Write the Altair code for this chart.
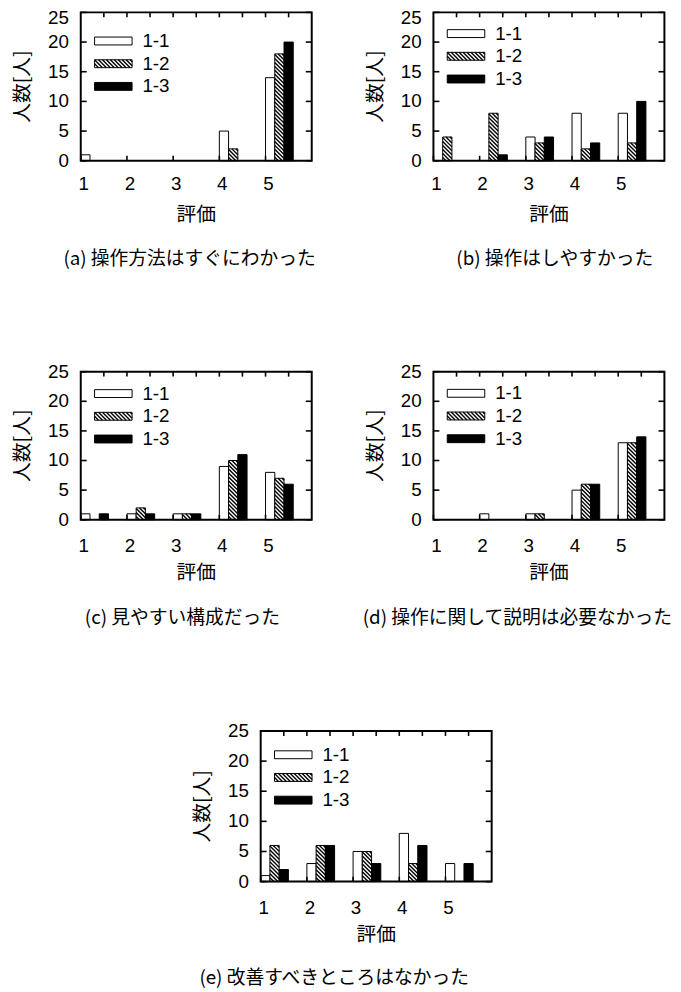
import altair as alt
import pandas as pd

# ---------------- data ----------------
ratings = [1, 2, 3, 4, 5]
series_names = ["1-1", "1-2", "1-3"]

a_11 = [1, 0, 0, 5, 14]
a_12 = [0, 0, 0, 2, 18]
a_13 = [0, 0, 0, 0, 20]

b_11 = [0, 0, 4, 8, 8]
b_12 = [4, 8, 3, 2, 3]
b_13 = [0, 1, 4, 3, 10]

c_11 = [1, 1, 1, 9, 8]
c_12 = [0, 2, 1, 10, 7]
c_13 = [1, 1, 1, 11, 6]

d_11 = [0, 1, 1, 5, 13]
d_12 = [0, 0, 1, 6, 13]
d_13 = [0, 0, 0, 6, 14]

e_11 = [1, 3, 5, 8, 3]
e_12 = [6, 6, 5, 3, 0]
e_13 = [2, 6, 3, 6, 3]

captions = [
    "(a) 操作方法はすぐにわかった",
    "(b) 操作はしやすかった",
    "(c) 見やすい構成だった",
    "(d) 操作に関して説明は必要なかった",
    "(e) 改善すべきところはなかった",
]
x_title = "評価"
y_title = "人数[人]"
y_tick_values = [0, 5, 10, 15, 20, 25]
x_tick_values = [1, 2, 3, 4, 5]
x_top_ticks = [1.5, 2, 2.5, 3, 3.5, 4, 4.5, 5, 5.5]

# ---------------- style ----------------
W = 234
BAR_W = 0.2
HATCH_P = 4.0
LAT = "Liberation Sans"
CJK = "Noto Sans CJK JP"
TICK_FS = 19
NOAX = dict(axis=None)


def panel(v11, v12, v13, caption, H, lab_pad, title_y, leg_top, cap_cx, cap_dy,
          bottom_ext, top_label_shift=0):
    ux = W / 5.0
    uy = H / 25.0
    xs = alt.Scale(domain=[1, 6], nice=False, zero=False)
    ys = alt.Scale(domain=[0, 25], nice=False)
    fill_scale = alt.Scale(domain=series_names, range=["white", "white", "black"])

    # invisible white block that fixes the panel's layout bounds (drawn first)
    spacer = alt.Chart(pd.DataFrame({"s": [0]})).mark_rect(fill="white", strokeWidth=0).encode(
        x=alt.value(-85), x2=alt.value(W + 10),
        y=alt.value(-15), y2=alt.value(H + bottom_ext))

    df = pd.DataFrame({
        "rating": ratings * 3,
        "series": [s for s in series_names for _ in ratings],
        "idx": [i for i in range(3) for _ in ratings],
        "value": v11 + v12 + v13,
    })

    base = alt.Chart(df).transform_filter("datum.value > 0").transform_calculate(
        x0=f"datum.rating + datum.idx * {BAR_W}",
        x1=f"datum.rating + (datum.idx + 1) * {BAR_W}",
    )

    bars = base.mark_rect(stroke="black", strokeWidth=1).encode(
        x=alt.X("x0:Q", scale=xs, **NOAX),
        x2="x1:Q",
        y=alt.Y("value:Q", scale=ys, **NOAX),
        y2=alt.datum(0),
        fill=alt.Fill("series:N", scale=fill_scale, legend=None),
    )

    def hatch(ch):
        return ch.transform_calculate(
            cs=f"sequence(datum.T - datum.R + {HATCH_P / 2}, datum.B - datum.L, {HATCH_P})"
        ).transform_flatten(["cs"], as_=["c"]).transform_calculate(
            p0="max(datum.L, datum.T - datum.c)",
            p1="min(datum.R, datum.B - datum.c)",
        ).transform_filter("datum.p1 > datum.p0").transform_calculate(
            hx0=f"1 + datum.p0 / {ux}",
            hx1=f"1 + datum.p1 / {ux}",
            hy0=f"({H} - datum.p0 - datum.c) / {uy}",
            hy1=f"({H} - datum.p1 - datum.c) / {uy}",
        ).mark_rule(stroke="black", strokeWidth=1.4).encode(
            x=alt.X("hx0:Q", scale=xs, **NOAX), x2="hx1:Q",
            y=alt.Y("hy0:Q", scale=ys, **NOAX), y2="hy1:Q",
        )

    bar_hatch = hatch(base.transform_filter("datum.series == '1-2'").transform_calculate(
        L=f"(datum.x0 - 1) * {ux}", R=f"(datum.x1 - 1) * {ux}",
        T=f"{H} - datum.value * {uy}", B=f"{H}",
    ))

    # frame and inward ticks (gnuplot style)
    frame = alt.Chart(pd.DataFrame({"s": [0]})).mark_rect(
        filled=False, stroke="black", strokeWidth=2).encode(
        x=alt.value(0), x2=alt.value(W), y=alt.value(0), y2=alt.value(H))
    tk = dict(stroke="black", strokeWidth=1.6)
    ydf = pd.DataFrame({"v": y_tick_values})
    xdf = pd.DataFrame({"v": x_tick_values})
    left_ticks = alt.Chart(ydf).mark_rule(**tk).encode(
        y=alt.Y("v:Q", scale=ys, **NOAX), x=alt.value(0), x2=alt.value(6))
    right_ticks = alt.Chart(ydf).mark_rule(**tk).encode(
        y=alt.Y("v:Q", scale=ys, **NOAX), x=alt.value(W - 6), x2=alt.value(W))
    top_ticks = alt.Chart(pd.DataFrame({"v": x_top_ticks})).mark_rule(**tk).encode(
        x=alt.X("v:Q", scale=xs, **NOAX), y=alt.value(0), y2=alt.value(5))
    bottom_ticks = alt.Chart(xdf).mark_rule(**tk).encode(
        x=alt.X("v:Q", scale=xs, **NOAX), y=alt.value(H - 5), y2=alt.value(H))

    # tick labels and axis titles
    y_labels = alt.Chart(ydf).transform_calculate(
        ypos=f"datum.v >= 25 ? 25 - {top_label_shift} / {uy} : datum.v"
    ).mark_text(font=LAT, fontSize=TICK_FS, align="right",
                baseline="middle", color="black").encode(
        y=alt.Y("ypos:Q", scale=ys, **NOAX), x=alt.value(-12),
        text=alt.Text("v:Q", format="d"))
    x_labels = alt.Chart(xdf).mark_text(font=LAT, fontSize=TICK_FS, align="center",
                                        baseline="middle", color="black", dx=3).encode(
        x=alt.X("v:Q", scale=xs, **NOAX), y=alt.value(H + lab_pad),
        text=alt.Text("v:Q", format="d"))
    x_ttl = alt.Chart(pd.DataFrame({"t": [x_title]})).mark_text(
        font=CJK, fontSize=20, align="center", baseline="middle", color="black").encode(
        text="t:N", x=alt.value(W / 2), y=alt.value(H + title_y))
    y_ttl = alt.Chart(pd.DataFrame({"t": [y_title]})).mark_text(
        font=CJK, fontSize=20, align="center", baseline="middle", color="black",
        angle=270).encode(
        text="t:N", x=alt.value(-58), y=alt.value(H / 2))

    # key (legend) drawn inside the plot
    leg = alt.Chart(pd.DataFrame({"series": series_names, "idx": [0, 1, 2]})).transform_calculate(
        ly=f"{leg_top} + datum.idx * 23",
    ).transform_calculate(
        lx0=f"1 + 14 / {ux}", lx1=f"1 + 52 / {ux}",
        ly0=f"({H} - datum.ly + 4) / {uy}", ly1=f"({H} - datum.ly - 4) / {uy}",
        tx=f"1 + 62.5 / {ux}", ty=f"({H} - datum.ly) / {uy}",
        L="14", R="52", T="datum.ly - 4", B="datum.ly + 4",
    )
    leg_rect = leg.mark_rect(stroke="black", strokeWidth=1).encode(
        x=alt.X("lx0:Q", scale=xs, **NOAX), x2="lx1:Q",
        y=alt.Y("ly0:Q", scale=ys, **NOAX), y2="ly1:Q",
        fill=alt.Fill("series:N", scale=fill_scale, legend=None),
    )
    leg_hatch = hatch(leg.transform_filter("datum.series == '1-2'"))
    leg_text = leg.mark_text(font=LAT, fontSize=TICK_FS, align="left",
                             baseline="middle", color="black").encode(
        x=alt.X("tx:Q", scale=xs, **NOAX), y=alt.Y("ty:Q", scale=ys, **NOAX),
        text="series:N",
    )

    cap = alt.Chart(pd.DataFrame({"caption": [caption]})).mark_text(
        font=CJK, fontSize=19, align="center", baseline="middle", color="black"
    ).encode(text="caption:N", x=alt.value(cap_cx), y=alt.value(H + cap_dy))

    return alt.layer(spacer, bars, bar_hatch, frame, left_ticks, right_ticks, top_ticks,
                     bottom_ticks, y_labels, x_labels, x_ttl, y_ttl,
                     leg_rect, leg_hatch, leg_text, cap).properties(
        width=W, height=H, view=alt.ViewBackground(stroke=None))


pa = panel(a_11, a_12, a_13, captions[0], 150.3, 24, 55, 29.0, 110.3, 99.7, 128, 6)
pb = panel(b_11, b_12, b_13, captions[1], 150.3, 24, 55, 21.5, 123.0, 99.7, 128, 6)
pc = panel(c_11, c_12, c_13, captions[2], 150.0, 27, 54, 22.2, 103.0, 99.7, 128.4)
pd_ = panel(d_11, d_12, d_13, captions[3], 150.0, 27, 54, 21.9, 85.0, 99.7, 128.4)
pe = panel(e_11, e_12, e_13, captions[4], 152.6, 27, 54, 24.1, 74.5, 97.7, 100)

SPACER_W = 50
shift = alt.Chart(pd.DataFrame({"s": [0]})).mark_rect(fill="white", strokeWidth=0).encode(
    x=alt.value(0), x2=alt.value(SPACER_W), y=alt.value(0), y2=alt.value(1)
).properties(width=SPACER_W, height=1, view=alt.ViewBackground(stroke=None))

row1 = alt.hconcat(pa, pb, spacing=28.3)
row2 = alt.hconcat(pc, pd_, spacing=28.3)
row3 = alt.hconcat(shift, pe, spacing=182.3 - 85 - SPACER_W)

chart = alt.vconcat(row1, row2, row3, spacing=70).properties(
    padding={"left": -11.3, "top": -17, "right": -2, "bottom": -3},
    background="white",
).configure_view(stroke=None)

chart.save("out.html", embed_options={"renderer": "svg", "actions": False})
